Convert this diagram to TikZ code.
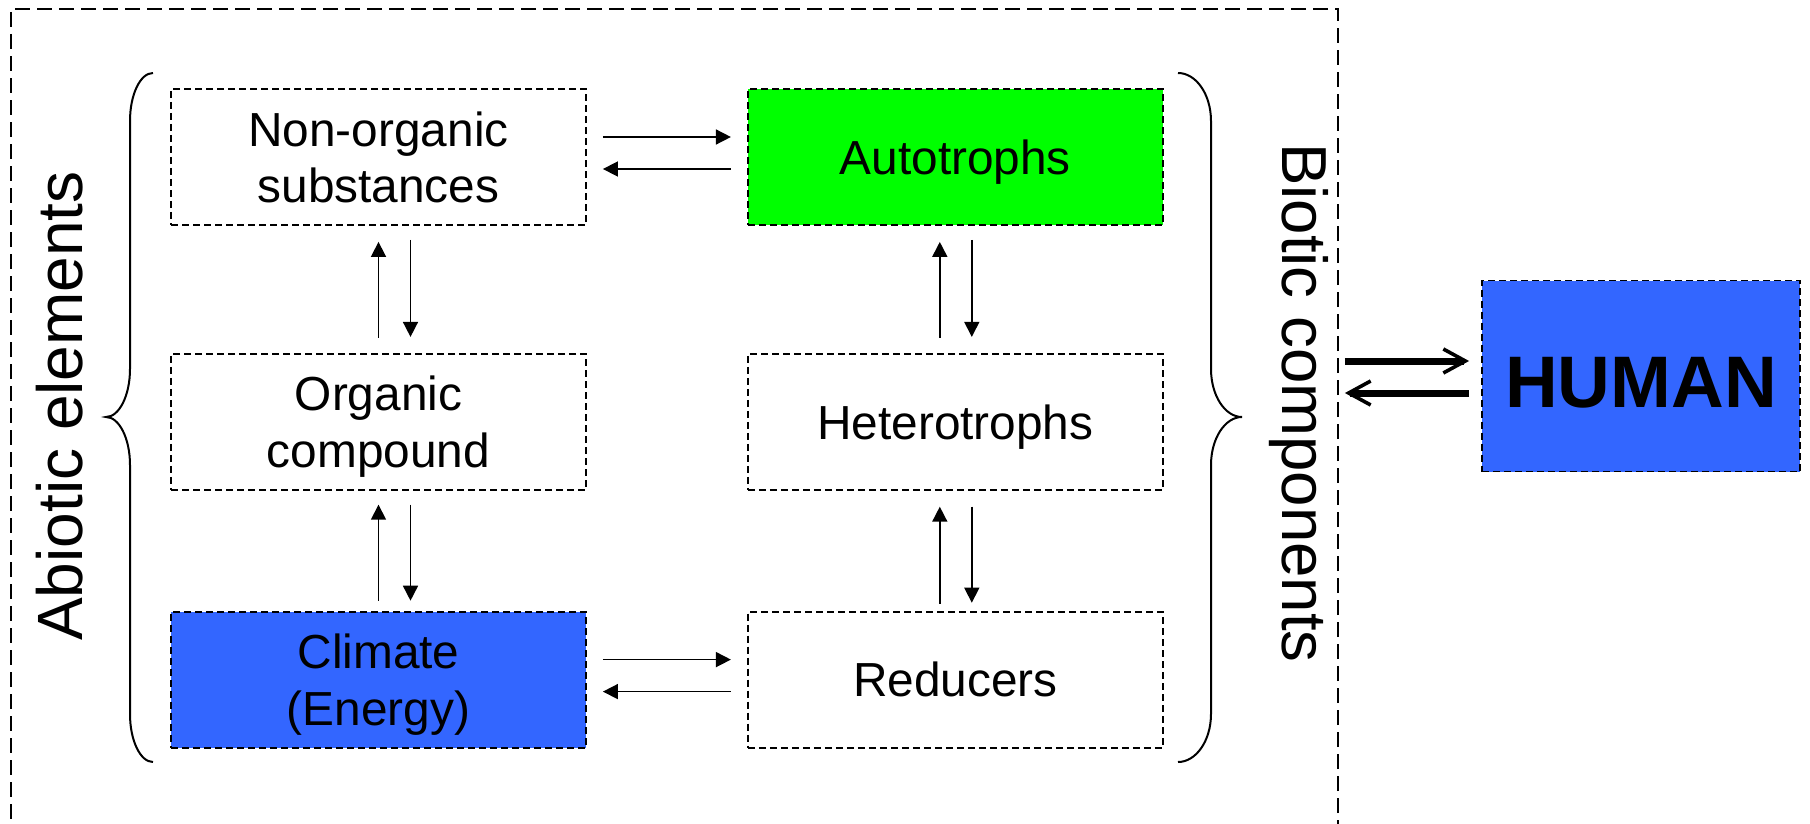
\documentclass[tikz,border=0pt]{standalone}
\usepackage{fontspec}
\setmainfont{Liberation Sans}
\usetikzlibrary{positioning, arrows.meta, calc}
\definecolor{leafgreen}{RGB}{0,255,0}
\definecolor{skyblue}{RGB}{51,102,255}
\tikzset{x=0.5pt, y=-0.5pt, % one unit is one pixel of the picture
box/.style={draw, dash pattern=on 3.5pt off 2pt, line width=0.9pt, minimum width=207.5pt, minimum height=68pt, inner sep=0pt, align=center, text depth=0pt, font=\fontsize{23.9}{28.3}\selectfont}, % the six dashed boxes
arr/.style={-{Triangle[length=7.5pt,width=7.5pt]}, line width=0.8pt}, % thin arrows between the boxes
bigarr/.style={-{Straight Barb[length=11pt,width=12pt,line width=1.8pt]}, line width=3.5pt}, % thick arrows to HUMAN
sidetext/.style={font=\fontsize{32}{38}\selectfont, inner sep=0pt}, % the two rotated labels
}

\begin{document}
\begin{tikzpicture}
  \useasboundingbox (0,0) rectangle (1810,824);
  \node[draw, dash pattern=on 7.5pt off 3.5pt, line width=0.9pt, minimum width=663.5pt, minimum height=420.5pt] (eco) at (674.5,429.5) {};

  \node[box] (non) at (378.5,157) {Non-organic\\substances};
  \node[box, fill=leafgreen, right=80pt of non] (auto) {Autotrophs};
  \node[box, below=63.5pt of non] (org) {Organic\\compound};
  \node[box, right=80pt of org] (het) {Heterotrophs};
  \node[box, fill=skyblue, below=60pt of org] (clim) {Climate\\(Energy)};
  \node[box, right=80pt of clim] (red) {Reducers};
  \node[box, fill=skyblue, minimum width=159pt, minimum height=95.5pt, text height=31pt, font=\fontsize{36.5}{40}\selectfont\bfseries] (human) at (1641,376) {HUMAN};

  \node[sidetext, rotate=90] (abio) at (60,406) {Abiotic elements};
  \node[sidetext, font=\fontsize{31.8}{38}\selectfont, rotate=-90] (bio) at (1299,403) {Biotic components};

  % braces
  \draw[line width=1pt] (153,73) .. controls (140.3,73) and (130,94.5) .. (130,121) -- (130,369)
    .. controls (130,395.5) and (119.2,417) .. (106,417) .. controls (119.2,417) and (130,438.5) .. (130,465)
    -- (130,714) .. controls (130,740.5) and (140.3,762) .. (153,762);
  \draw[line width=1pt] (1178,73) .. controls (1196.2,73) and (1211,94.5) .. (1211,121) -- (1211,369)
    .. controls (1211,395.5) and (1225,417) .. (1242,417) .. controls (1225,417) and (1211,438.5) .. (1211,465)
    -- (1211,714) .. controls (1211,740.5) and (1196.2,762) .. (1178,762);

  % horizontal arrows
  \draw[arr, shorten <=8pt, shorten >=8pt] ([yshift=10pt]non.east) -- ([yshift=10pt]auto.west);
  \draw[arr, shorten <=8pt, shorten >=8pt] ([yshift=-6pt]auto.west) -- ([yshift=-6pt]non.east);
  \draw[arr, shorten <=8pt, shorten >=8pt] ([yshift=10pt]clim.east) -- ([yshift=10pt]red.west);
  \draw[arr, shorten <=8pt, shorten >=8pt] ([yshift=-6pt]red.west) -- ([yshift=-6pt]clim.east);

  % vertical arrows
  \draw[arr, shorten <=7.5pt, shorten >=8pt] (org.north) -- (non.south);
  \draw[arr, shorten <=7pt, shorten >=8pt] ([xshift=16pt]non.south) -- ([xshift=16pt]org.north);
  \draw[arr, shorten <=5pt, shorten >=7pt] (clim.north) -- (org.south);
  \draw[arr, shorten <=7pt, shorten >=5pt] ([xshift=16pt]org.south) -- ([xshift=16pt]clim.north);
  \draw[arr, shorten <=7.5pt, shorten >=8pt] ([xshift=-7.75pt]het.north) -- ([xshift=-7.75pt]auto.south);
  \draw[arr, shorten <=7pt, shorten >=8pt] ([xshift=8.25pt]auto.south) -- ([xshift=8.25pt]het.north);
  \draw[arr, shorten <=3.5pt, shorten >=8pt] ([xshift=-7.75pt]red.north) -- ([xshift=-7.75pt]het.south);
  \draw[arr, shorten <=8pt, shorten >=4pt] ([xshift=8.25pt]het.south) -- ([xshift=8.25pt]red.north);

  % to and from HUMAN
  \draw[bigarr, shorten <=3pt, shorten >=6pt] ($(eco.east |- human.west)+(0,-15)$) -- ($(human.west)+(0,-15)$);
  \draw[bigarr, shorten <=6pt, shorten >=3pt] ($(human.west)+(0,17)$) -- ($(eco.east |- human.west)+(0,17)$);
\end{tikzpicture}
\end{document}
